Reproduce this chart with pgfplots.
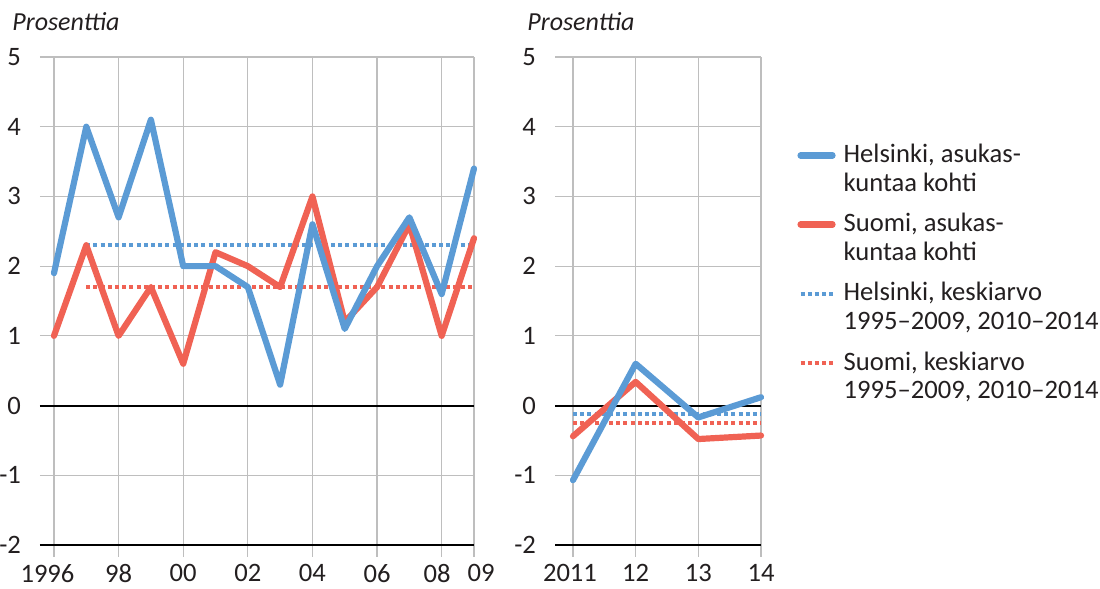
\documentclass[border=0pt]{standalone}
\usepackage{pgfplots}
\pgfplotsset{compat=1.18}
\usepackage{fontspec}
\setmainfont{Carlito}
\definecolor{hblue}{RGB}{91,155,213}
\definecolor{sred}{RGB}{240,98,84}
\definecolor{gridc}{RGB}{190,190,190}
\definecolor{txt}{RGB}{35,31,32}
\pgfplotsset{
  panel/.style={
    scale only axis, height=244pt, ymin=-2, ymax=5, ytick={-2,...,5},
    axis x line*=bottom, axis y line*=left,
    x axis line style={black, line width=1pt, -},
    y axis line style={draw=none},
    grid=major, grid style={gridc, line width=0.6pt},
    tick align=outside, major tick length=6pt,
    xtick style={gridc, line width=0.6pt},
    ytick style={draw=none},
    ticklabel style={font=\fontsize{13.3}{15}\selectfont, text=txt},
    /pgf/number format/assume math mode=true,
    extra y ticks={0}, extra y tick labels={},
    extra y tick style={grid style={black, line width=1pt}},
    clip=false,
  },
  sol/.style={line width=3.1pt, line join=round, line cap=round},
  dot/.style={line width=2pt, dash pattern=on 2pt off 1.6pt},
}
\begin{document}
\begin{tikzpicture}
\useasboundingbox (0,0) rectangle (550pt,294.5pt);
\node[anchor=base west, inner sep=0pt, text=txt, font=\fontsize{13}{15}\selectfont\itshape] at (6pt,279pt) {Prosenttia};
\node[anchor=base west, inner sep=0pt, text=txt, font=\fontsize{13}{15}\selectfont\itshape] at (263.5pt,279pt) {Prosenttia};
\begin{axis}[panel, at={(20pt,22pt)}, anchor=south west, width=217pt,
  xmin=1995.567, xmax=2009,
  xtick={1996,1998,2000,2002,2004,2006,2008,2009},
  xticklabels={\hspace*{-6.5pt}1996,98,00,02,04,06,\hspace*{-4.5pt}08,09\hspace*{-7pt}}]
\addplot[hblue, dot] coordinates {(1997,2.3) (2009,2.3)};
\addplot[sred, dot] coordinates {(1997,1.7) (2009,1.7)};
\addplot[sred, sol] coordinates {
(1996,1.0) (1997,2.3) (1998,1.0) (1999,1.7) (2000,0.6) (2001,2.2) (2002,2.0)
(2003,1.7) (2004,3.0) (2005,1.2) (2006,1.7) (2007,2.6) (2008,1.0) (2009,2.4)};
\addplot[hblue, sol] coordinates {
(1996,1.9) (1997,4.0) (1998,2.7) (1999,4.1) (2000,2.0) (2001,2.0) (2002,1.7)
(2003,0.3) (2004,2.6) (2005,1.1) (2006,2.0) (2007,2.7) (2008,1.6) (2009,3.4)};
\end{axis}
\begin{axis}[panel, at={(277.5pt,22pt)}, anchor=south west, width=103pt,
  xmin=2010.713, xmax=2014,
  xtick={2011,2012,2013,2014},
  xticklabels={\hspace*{-3pt}2011,12,13,14},
  legend image code/.code={\path[draw=none] (0pt,-8pt) rectangle (0pt,8pt); \draw[#1] (0pt,7pt) -- (16pt,7pt);},
  legend style={draw=none, fill=none, at={(1.175,0.83)}, anchor=north west,
    inner sep=0pt, row sep=5.5pt, text=txt,
    font=\fontsize{13.3}{14.3}\selectfont,
    cells={anchor=west, align=left},
    /tikz/every odd column/.append style={column sep=2pt}}]
\addlegendimage{hblue, sol}
\addlegendentry{Helsinki, asukas-\\kuntaa kohti}
\addlegendimage{sred, sol}
\addlegendentry{Suomi, asukas-\\kuntaa kohti}
\addlegendimage{hblue, dot}
\addlegendentry{Helsinki, keskiarvo\\1995–2009, 2010–2014}
\addlegendimage{sred, dot}
\addlegendentry{Suomi, keskiarvo\\1995–2009, 2010–2014}
\addplot[hblue, dot, forget plot] coordinates {(2011,-0.12) (2014,-0.12)};
\addplot[sred, dot, forget plot] coordinates {(2011,-0.25) (2014,-0.25)};
\addplot[sred, sol, forget plot] coordinates {(2011,-0.44) (2012,0.34) (2013,-0.48) (2014,-0.43)};
\addplot[hblue, sol, forget plot] coordinates {(2011,-1.07) (2012,0.6) (2013,-0.17) (2014,0.12)};
\end{axis}
\end{tikzpicture}
\end{document}
